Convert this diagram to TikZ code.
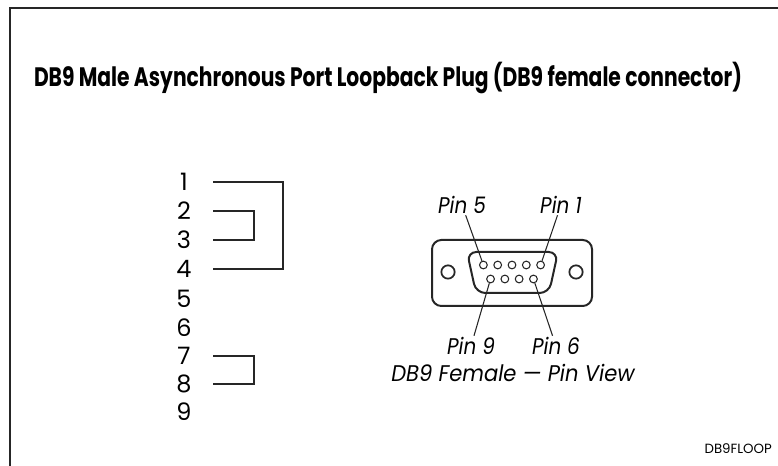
\documentclass[tikz,border=0pt]{standalone}
\usepackage{fontspec}
\setmainfont{Poppins}
\newfontfamily\titlefont[FakeStretch=0.76]{Poppins}
\newfontfamily\labfont[FakeStretch=0.88]{Poppins}
\newfontfamily\capfont[FakeStretch=0.93]{Poppins}
\begin{document}
\begin{tikzpicture}[x=0.75pt,y=-0.75pt,
  numlab/.style={inner sep=0pt, font=\fontsize{18}{20}\selectfont},
  pinlab/.style={inner sep=1pt, font=\labfont\itshape\fontsize{17}{20}\selectfont},
  caplab/.style={inner sep=1pt, font=\capfont\itshape\fontsize{17}{20}\selectfont},
  wire/.style={line width=1.6pt, draw=black!85},
  shell/.style={line width=1.5pt, draw=black!85, rounded corners=7pt},
  pinhole/.style={circle, draw=black!85, line width=0.8pt, inner sep=0pt, minimum size=5.8pt},
  mhole/.style={circle, draw=black!85, line width=1.3pt, inner sep=0pt, minimum size=10pt},
  lead/.style={line width=0.8pt, draw=black!85}]
\useasboundingbox (0,0) rectangle (778,466);
% frame
\draw[line width=1.6pt, draw=black!85] (10,466) -- (10,8) -- (778,8);
% title
\node[inner sep=0pt, font=\titlefont\bfseries\fontsize{20}{24}\selectfont] (title) at (388,78)
  {DB9 Male Asynchronous Port Loopback Plug (DB9 female connector)};
% pin numbers
\foreach \k/\yy in {1/182,2/211,3/240,4/269,5/299,6/328,7/356,8/384,9/412}{
  \node[numlab] (n\k) at (184,\yy) {\k};
  \coordinate (a\k) at (213,\yy);
}
% loopback wires
\draw[wire] (a1) -- ++(70,0) |- (a4);
\draw[wire] (a2) -- ++(41,0) |- (a3);
\draw[wire] (a7) -- ++(41,0) |- (a8);
% connector
\draw[shell] (432,240) rectangle (592,306);
\draw[shell] (467,252) -- (558,252) -- (549,293) -- (476,293) -- cycle;
\node[mhole] (m1) at (448,272) {};
\node[mhole] (m2) at (576,272) {};
\foreach \i in {1,...,5}{
  \node[pinhole] (p\i) at ({512+(3-\i)*14.3},265) {};
}
\foreach \i in {6,...,9}{
  \node[pinhole] (p\i) at ({512+(7.5-\i)*14.3},279) {};
}
% labels
\node[pinlab] (l5) at (462,205) {Pin 5};
\node[pinlab] (l1) at (561,205) {Pin 1};
\node[pinlab] (l9) at (471,346) {Pin 9};
\node[pinlab] (l6) at (556,346) {Pin 6};
\node[caplab] (cap) at (513,373) {DB9 Female — Pin View};
\draw[lead] (p5) -- (l5);
\draw[lead] (p1) -- (l1);
\draw[lead] (p9) -- (l9);
\draw[lead] (p6) -- (l6);
% figure id
\node[inner sep=0pt, font=\fontsize{10}{12}\selectfont, anchor=east] (fid) at (772,449) {DB9FLOOP};
\end{tikzpicture}
\end{document}
